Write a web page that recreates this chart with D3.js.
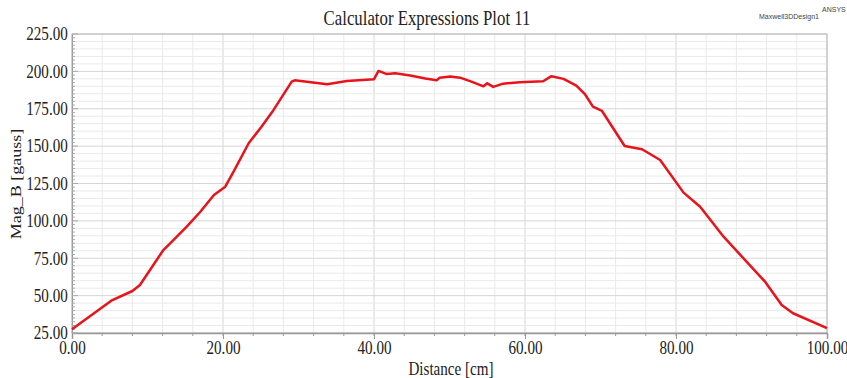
<!DOCTYPE html>
<html>
<head>
<meta charset="utf-8">
<script src="https://cdn.jsdelivr.net/npm/d3@7"></script>
<style>
  body { margin: 0; background: #fff; }
  text { font-family: "Liberation Serif", "Times New Roman", serif; fill: #222; }
</style>
</head>
<body>
<div id="screen"></div>
<script>
// values (distance in cm, Mag_B in gauss)
const distance = [0, 5.2, 8.0, 9.0, 12.1, 13.0, 15.2, 17.0, 18.8, 20.3, 21.4, 23.4, 25.1, 26.7, 29.1, 29.5,
  33.8, 36.4, 39.5, 40.0, 40.6, 41.7, 42.8, 44.8, 46.8, 48.3, 48.7, 50.1, 51.4, 52.9, 54.5, 55.0, 55.8,
  57.1, 59.3, 62.4, 63.5, 65.1, 66.8, 67.9, 69.0, 70.2, 73.2, 75.5, 77.9, 81.0, 83.2, 86.3, 91.8, 94.0, 95.5, 100];
const magB = [27.5, 46.6, 53.1, 57.1, 80.5, 85.0, 96.1, 106.1, 117.3, 122.9, 132.9, 151.9, 163.0, 174.2, 193.1, 194.0,
  191.4, 193.5, 194.6, 194.8, 200.3, 198.2, 198.7, 197.3, 195.2, 194.0, 195.8, 196.5, 195.8, 193.1, 190.0, 192.0, 189.6,
  191.8, 192.8, 193.4, 196.8, 195.0, 190.5, 185.0, 176.4, 173.5, 150.1, 147.9, 140.7, 118.9, 109.5, 89.4, 59.3, 43.7, 38.2, 28.2];
const xTicks = [0, 20, 40, 60, 80, 100];
const yTicks = [25, 50, 75, 100, 125, 150, 175, 200, 225];

const W = 847, H = 378;
const margin = {left: 72, right: 20, top: 34, bottom: 45};
const squeeze = 0.84; // text in the original is narrow & tall

const svg = d3.select("#screen").append("svg").attr("width", W).attr("height", H);

const x = d3.scaleLinear().domain([0, 100]).range([margin.left, W - margin.right]);
const y = d3.scaleLinear().domain([25, 225]).range([H - margin.bottom, margin.top]);

// grid
svg.append("g").selectAll("line").data(d3.range(0, 100.1, 4)).join("line")
  .attr("x1", d => x(d)).attr("x2", d => x(d))
  .attr("y1", y(25)).attr("y2", y(225))
  .attr("stroke", d => d % 20 == 0 ? "#d6d6d6" : "#eaeaea").attr("stroke-width", 1);
svg.append("g").selectAll("line").data(d3.range(25, 225.1, 5)).join("line")
  .attr("x1", x(0)).attr("x2", x(100))
  .attr("y1", d => y(d)).attr("y2", d => y(d))
  .attr("stroke", d => d % 25 == 0 ? "#d6d6d6" : "#eaeaea").attr("stroke-width", 1);

// frame
svg.append("rect")
  .attr("x", x(0)).attr("y", y(225))
  .attr("width", x(100) - x(0)).attr("height", y(25) - y(225))
  .attr("fill", "none").attr("stroke", "#b8b8b8").attr("stroke-width", 1);

// axes
const xAxis = d3.axisBottom(x).tickValues(xTicks).tickFormat(d3.format(".2f")).tickSize(6).tickPadding(2);
const gx = svg.append("g").attr("transform", `translate(0,${y(25)})`).call(xAxis);
gx.select(".domain").attr("stroke", "#999").attr("stroke-width", 1.5);
gx.selectAll(".tick line").attr("stroke", "#999");
gx.selectAll("text").style("font-size", "18px").attr("transform", `scale(${squeeze},1)`);

// minor x ticks
svg.append("g").selectAll("line").data(d3.range(4, 100, 4)).join("line")
  .attr("x1", d => x(d)).attr("x2", d => x(d))
  .attr("y1", y(25)).attr("y2", y(25) + 3).attr("stroke", "#999");

const yAxis = d3.axisLeft(y).tickValues(yTicks).tickFormat(d3.format(".2f")).tickSize(0).tickPadding(5);
const gy = svg.append("g").attr("transform", `translate(${x(0)},0)`).call(yAxis);
gy.select(".domain").attr("stroke", "#999");
gy.selectAll("text").style("font-size", "18px").attr("transform", `scale(${squeeze},1)`);

// minor y ticks
svg.append("g").selectAll("line").data(d3.range(25, 225.1, 2.5)).join("line")
  .attr("x1", x(0)).attr("x2", d => x(0) + (d % 25 == 0 ? 6 : 3))
  .attr("y1", d => y(d)).attr("y2", d => y(d)).attr("stroke", "#aaa");

// curve
const line = d3.line().x(d => x(d[0])).y(d => y(d[1]));
svg.append("path")
  .datum(distance.map((d, i) => [d, magB[i]]))
  .attr("d", line)
  .attr("fill", "none").attr("stroke", "#e8131b").attr("stroke-width", 2.5)
  .attr("stroke-linejoin", "round");

// titles
svg.append("text").attr("transform", `translate(427,25) scale(${squeeze},1)`).attr("text-anchor", "middle")
  .style("font-size", "20px").text("Calculator Expressions Plot 11");
svg.append("text").attr("transform", `translate(451,375) scale(${squeeze},1)`).attr("text-anchor", "middle")
  .style("font-size", "18px").text("Distance [cm]");
svg.append("text").attr("transform", `translate(21,184) rotate(-90) scale(1,${squeeze})`).attr("text-anchor", "middle")
  .style("font-size", "18px").text("Mag_B [gauss]");

svg.append("text").attr("x", 789).attr("y", 19).attr("text-anchor", "middle")
  .style("font-family", "Liberation Sans, Arial, sans-serif").style("font-size", "7px").style("fill", "#444")
  .text("Maxwell3DDesign1");
svg.append("text").attr("x", 822).attr("y", 12)
  .style("font-family", "Liberation Sans, Arial, sans-serif").style("font-size", "7px").style("fill", "#444")
  .text("ANSYS");
</script>
</body>
</html>
